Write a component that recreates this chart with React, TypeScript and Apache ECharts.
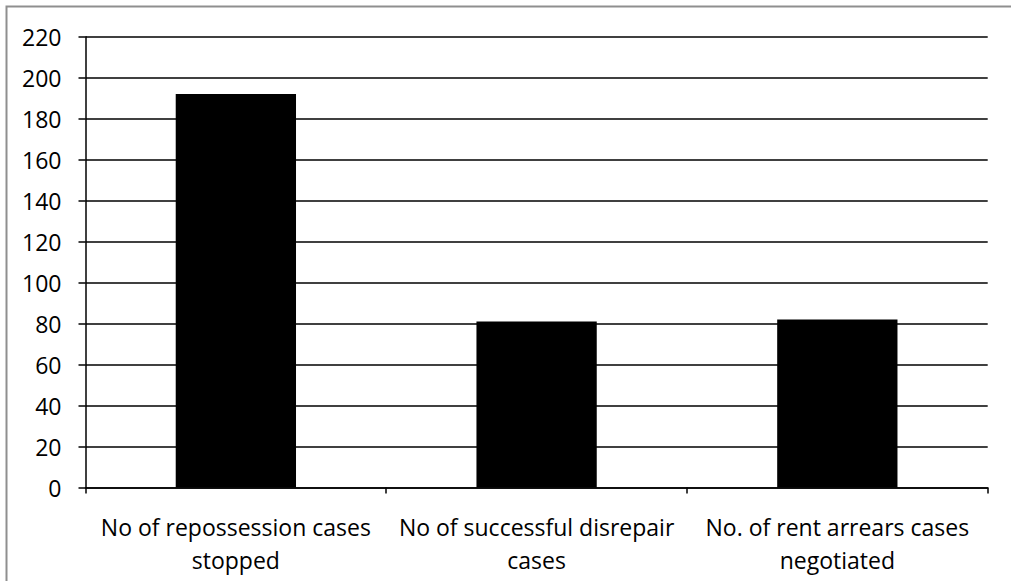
import React, { useEffect, useRef } from "react";
import * as echarts from "echarts";

const categories = [
  "No of repossession cases\nstopped",
  "No of successful disrepair\ncases",
  "No. of rent arrears cases\nnegotiated",
];
const values = [192, 81, 82];
const yMin = 0;
const yMax = 220;
const yStep = 20;

export default function App() {
  const ref = useRef<HTMLDivElement>(null);
  useEffect(() => {
    if (!ref.current) return;
    const chart = echarts.init(ref.current, undefined, { renderer: "svg" });
    const font = "'Open Sans', sans-serif";
    chart.setOption({
      animation: false,
      backgroundColor: "#ffffff",
      grid: { left: 85.5, right: 23.3, top: 36.7, bottom: 93.5, containLabel: false },
      graphic: [
        {
          type: "rect",
          shape: { x: 6.5, y: 6.5, width: 1200, height: 800 },
          style: { fill: "none", stroke: "#8f8f8f", lineWidth: 2 },
          silent: true,
        },
      ],
      xAxis: {
        type: "category",
        data: categories,
        boundaryGap: true,
        axisLine: { show: true, lineStyle: { color: "#000", width: 1.5 } },
        axisTick: { show: true, length: 6, alignWithLabel: false, lineStyle: { color: "#000", width: 1.5 } },
        axisLabel: {
          interval: 0,
          margin: 23,
          color: "#000",
          fontFamily: font,
          fontSize: 23,
          lineHeight: 33,
        },
        splitLine: { show: false },
      },
      yAxis: {
        type: "value",
        min: yMin,
        max: yMax,
        interval: yStep,
        axisLine: { show: true, lineStyle: { color: "#000", width: 1.5 } },
        axisTick: { show: true, length: 7, lineStyle: { color: "#000", width: 1.5 } },
        axisLabel: {
          margin: 24,
          color: "#000",
          fontFamily: font,
          fontSize: 23,
        },
        splitLine: { show: true, lineStyle: { color: "#000", width: 1.5 } },
      },
      series: [
        {
          type: "bar",
          data: values,
          barWidth: "40%",
          itemStyle: { color: "#000" },
        },
      ],
    });
    return () => chart.dispose();
  }, []);
  return (
    <div
      ref={ref}
      style={{ position: "absolute", left: 0, top: 0, width: 1011, height: 581 }}
    />
  );
}
